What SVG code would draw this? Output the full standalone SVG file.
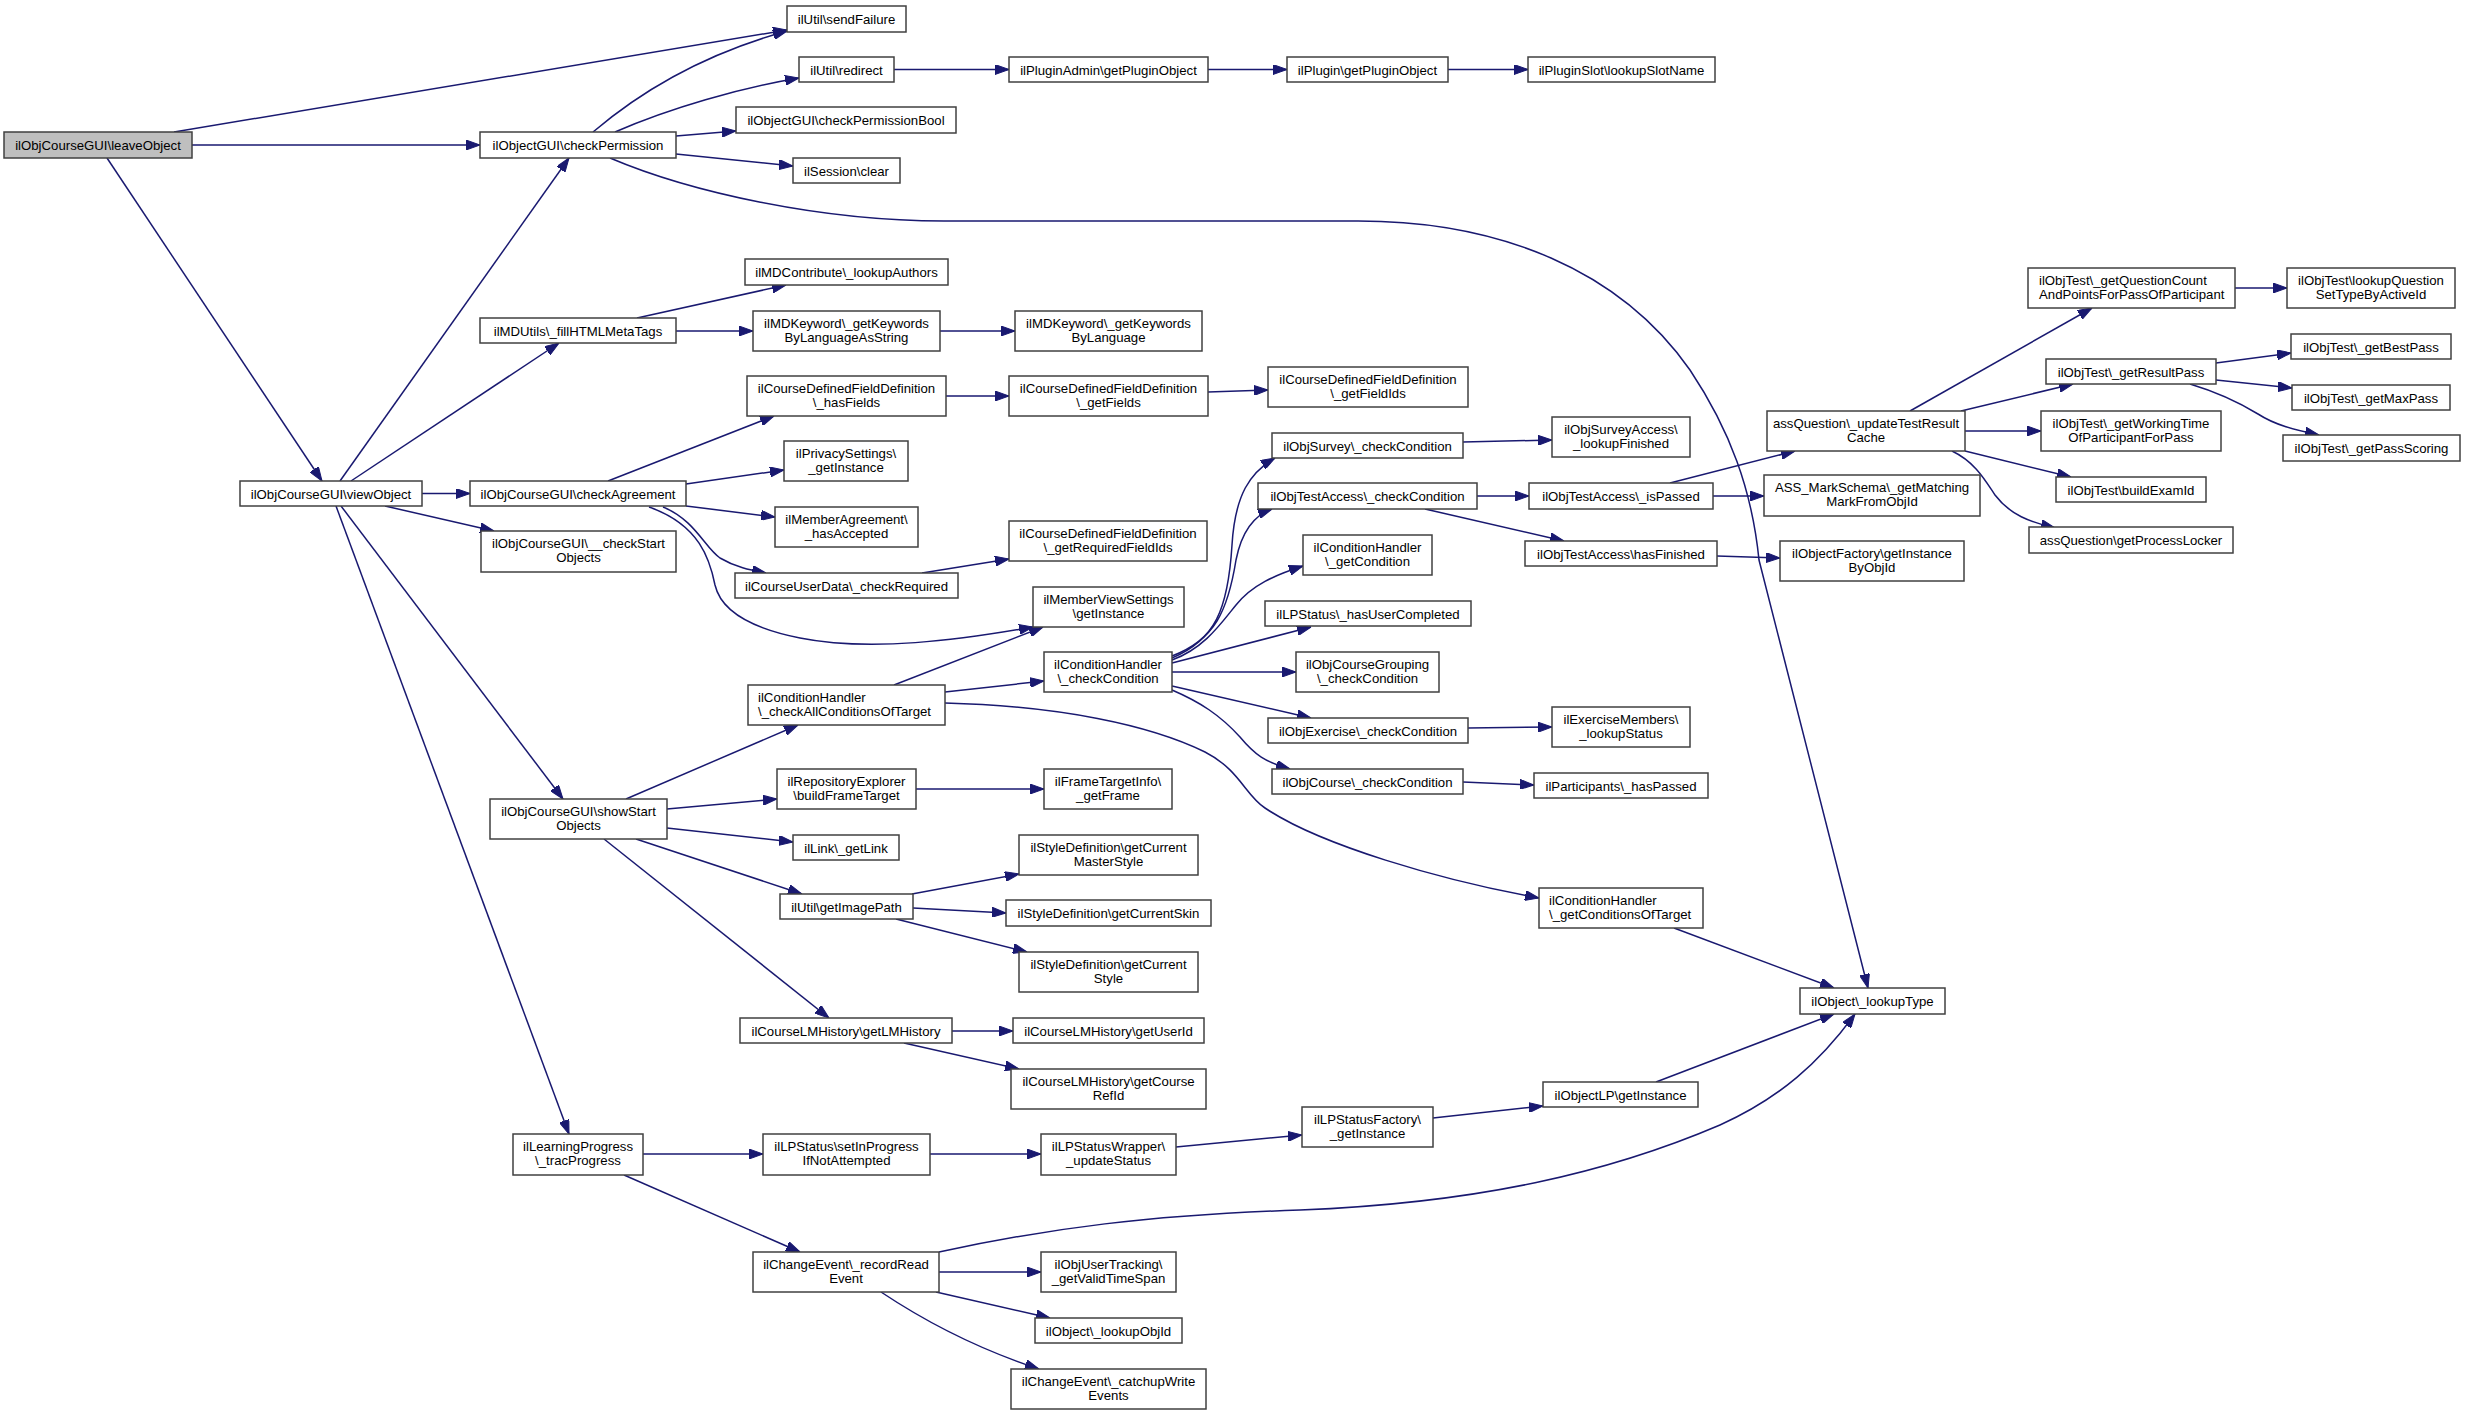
<svg xmlns="http://www.w3.org/2000/svg" width="2465" height="1415" viewBox="0 0 2465 1415">
<style>
.n rect{fill:#fff;stroke:#404040;stroke-width:1.5}
.n.root rect{fill:#bfbfbf}
text{font-family:"Liberation Sans",Arial,Helvetica,sans-serif;font-size:13.2px;text-anchor:middle;fill:#000}
text.l{text-anchor:start}
#edges path{fill:none;stroke:#191970;stroke-width:1.5;marker-end:url(#arr)}
</style>
<defs>
<marker id="arr" markerUnits="userSpaceOnUse" markerWidth="14" markerHeight="10" refX="14" refY="5" orient="auto">
<path d="M0,0 L14,5 L0,10 z" fill="#191970" stroke="#191970" stroke-width="1"/>
</marker>
</defs>
<rect width="2465" height="1415" fill="#fff"/>
<g id="edges">
<path d="M174,132 L787,30"/>
<path d="M192,145 L480,145"/>
<path d="M107,158 L322,481"/>
<path d="M593,132 C640,92 700,55 787,31"/>
<path d="M615,132 C670,108 740,88 799,78"/>
<path d="M676,136 L736,131"/>
<path d="M676,154 L793,166"/>
<path d="M610,158 C690,192 820,221 944,221 L1358,221 C1500,221 1620,270 1690,370 C1730,430 1752,490 1759,560 L1868,988"/>
<path d="M894,69.5 L1009,69.5"/>
<path d="M1208,69.5 L1287,69.5"/>
<path d="M1448,69.5 L1528,69.5"/>
<path d="M340,481 L569,158"/>
<path d="M351,481 L559,343"/>
<path d="M422,493.5 L470,493.5"/>
<path d="M385,506 L494,531"/>
<path d="M341,506 L563,799"/>
<path d="M336,506 L569,1134"/>
<path d="M637,318 L786,285"/>
<path d="M676,331 L753,331"/>
<path d="M940,331 L1015,331"/>
<path d="M608,481 L774,416"/>
<path d="M686,484 L784,470"/>
<path d="M686,506 L775,517"/>
<path d="M663,507 C695,520 705,548 720,558 C735,567 750,570 766,573"/>
<path d="M649,507 C700,525 710,560 715,585 C722,615 760,630 800,638 C870,652 960,640 1033,627"/>
<path d="M922,573 L1009,559"/>
<path d="M946,396 L1009,396"/>
<path d="M1208,392 L1268,390"/>
<path d="M626,799 L798,725"/>
<path d="M667,809 L777,799"/>
<path d="M916,789 L1044,789"/>
<path d="M667,828 L793,842"/>
<path d="M636,839 L802,894"/>
<path d="M604,839 L829,1018"/>
<path d="M894,685 L1043,627"/>
<path d="M945,692 L1044,681"/>
<path d="M945,703 C1060,706 1150,725 1205,752 C1240,770 1245,795 1265,808 C1320,845 1440,880 1539,898"/>
<path d="M1172,658 C1215,640 1228,610 1232,545 C1235,495 1250,472 1275,458"/>
<path d="M1172,656 C1215,640 1228,610 1236,560 C1242,530 1255,515 1272,509"/>
<path d="M1172,660 C1205,648 1222,622 1236,605 C1252,585 1275,575 1303,566"/>
<path d="M1172,663 L1311,627"/>
<path d="M1172,672 L1296,672"/>
<path d="M1172,686 L1311,718"/>
<path d="M1172,690 C1200,702 1220,715 1240,737 C1255,755 1265,762 1290,769"/>
<path d="M1463,442 L1552,440"/>
<path d="M1477,496 L1529,496"/>
<path d="M1425,509 L1564,541"/>
<path d="M1670,483 L1795,451"/>
<path d="M1713,496 L1764,496"/>
<path d="M1717,556 L1780,558"/>
<path d="M1468,728 L1552,727"/>
<path d="M1463,782 L1534,785"/>
<path d="M1674,928 L1834,988"/>
<path d="M912,894 L1019,874"/>
<path d="M913,908 L1006,913"/>
<path d="M896,919 L1027,952"/>
<path d="M952,1031 L1013,1031"/>
<path d="M904,1043 L1019,1069"/>
<path d="M643,1154 L763,1154"/>
<path d="M624,1175 L800,1252"/>
<path d="M930,1154 L1041,1154"/>
<path d="M1176,1147 L1302,1135"/>
<path d="M1433,1118 L1543,1106"/>
<path d="M1656,1082 L1834,1014"/>
<path d="M939,1252 C1050,1228 1150,1215 1300,1210 C1480,1203 1610,1172 1720,1125 C1780,1098 1820,1062 1855,1014"/>
<path d="M939,1272 L1041,1272"/>
<path d="M936,1292 L1050,1318"/>
<path d="M881,1292 C920,1318 975,1348 1039,1369"/>
<path d="M1910,411 L2092,308"/>
<path d="M1961,411 L2073,384"/>
<path d="M1965,431 L2041,431"/>
<path d="M1965,451 L2071,477"/>
<path d="M1952,451 C1975,462 1985,480 1995,495 C2010,515 2030,522 2055,528"/>
<path d="M2235,288 L2287,288"/>
<path d="M2216,363 L2291,353"/>
<path d="M2216,380 L2292,388"/>
<path d="M2190,384 C2220,393 2240,403 2258,414 C2275,425 2295,430 2319,435"/>
</g>
<g id="n0" class="n root"><rect x="4" y="132" width="188" height="26"/><text x="98" y="150">ilObjCourseGUI\leaveObject</text></g>
<g id="n1" class="n"><rect x="480" y="132" width="196" height="26"/><text x="578" y="150">ilObjectGUI\checkPermission</text></g>
<g id="n2" class="n"><rect x="787" y="6" width="119" height="26"/><text x="846.5" y="24">ilUtil\sendFailure</text></g>
<g id="n3" class="n"><rect x="799" y="57" width="95" height="25"/><text x="846.5" y="74.5">ilUtil\redirect</text></g>
<g id="n4" class="n"><rect x="736" y="107" width="220" height="26"/><text x="846" y="125">ilObjectGUI\checkPermissionBool</text></g>
<g id="n5" class="n"><rect x="793" y="158" width="107" height="25"/><text x="846.5" y="175.5">ilSession\clear</text></g>
<g id="n6" class="n"><rect x="1009" y="57" width="199" height="25"/><text x="1108.5" y="74.5">ilPluginAdmin\getPluginObject</text></g>
<g id="n7" class="n"><rect x="1287" y="57" width="161" height="25"/><text x="1367.5" y="74.5">ilPlugin\getPluginObject</text></g>
<g id="n8" class="n"><rect x="1528" y="57" width="187" height="25"/><text x="1621.5" y="74.5">ilPluginSlot\lookupSlotName</text></g>
<g id="n9" class="n"><rect x="1800" y="988" width="145" height="26"/><text x="1872.5" y="1006">ilObject\_lookupType</text></g>
<g id="n10" class="n"><rect x="240" y="481" width="182" height="25"/><text x="331" y="498.5">ilObjCourseGUI\viewObject</text></g>
<g id="n11" class="n"><rect x="480" y="318" width="196" height="25"/><text x="578" y="335.5">ilMDUtils\_fillHTMLMetaTags</text></g>
<g id="n12" class="n"><rect x="745" y="259" width="203" height="26"/><text x="846.5" y="277">ilMDContribute\_lookupAuthors</text></g>
<g id="n13" class="n"><rect x="753" y="311" width="187" height="40"/><text x="846.5" y="327.5">ilMDKeyword\_getKeywords</text><text x="846.5" y="342">ByLanguageAsString</text></g>
<g id="n14" class="n"><rect x="1015" y="311" width="187" height="40"/><text x="1108.5" y="327.5">ilMDKeyword\_getKeywords</text><text x="1108.5" y="342">ByLanguage</text></g>
<g id="n15" class="n"><rect x="470" y="481" width="216" height="25"/><text x="578" y="498.5">ilObjCourseGUI\checkAgreement</text></g>
<g id="n16" class="n"><rect x="747" y="376" width="199" height="40"/><text x="846.5" y="392.5">ilCourseDefinedFieldDefinition</text><text x="846.5" y="407">\_hasFields</text></g>
<g id="n17" class="n"><rect x="1009" y="376" width="199" height="40"/><text x="1108.5" y="392.5">ilCourseDefinedFieldDefinition</text><text x="1108.5" y="407">\_getFields</text></g>
<g id="n18" class="n"><rect x="1268" y="367" width="200" height="40"/><text x="1368" y="383.5">ilCourseDefinedFieldDefinition</text><text x="1368" y="398">\_getFieldIds</text></g>
<g id="n19" class="n"><rect x="784" y="441" width="124" height="40"/><text x="846" y="457.5">ilPrivacySettings\</text><text x="846" y="472">_getInstance</text></g>
<g id="n20" class="n"><rect x="775" y="507" width="143" height="40"/><text x="846.5" y="523.5">ilMemberAgreement\</text><text x="846.5" y="538">_hasAccepted</text></g>
<g id="n21" class="n"><rect x="735" y="573" width="223" height="25"/><text x="846.5" y="590.5">ilCourseUserData\_checkRequired</text></g>
<g id="n22" class="n"><rect x="1009" y="521" width="198" height="40"/><text x="1108" y="537.5">ilCourseDefinedFieldDefinition</text><text x="1108" y="552">\_getRequiredFieldIds</text></g>
<g id="n23" class="n"><rect x="1033" y="587" width="151" height="40"/><text x="1108.5" y="603.5">ilMemberViewSettings</text><text x="1108.5" y="618">\getInstance</text></g>
<g id="n24" class="n"><rect x="481" y="531" width="195" height="41"/><text x="578.5" y="547.5">ilObjCourseGUI\__checkStart</text><text x="578.5" y="562">Objects</text></g>
<g id="n25" class="n"><rect x="490" y="799" width="177" height="40"/><text x="578.5" y="815.5">ilObjCourseGUI\showStart</text><text x="578.5" y="830">Objects</text></g>
<g id="n26" class="n"><rect x="748" y="685" width="197" height="40"/><text class="l" x="758" y="701.5">ilConditionHandler</text><text class="l" x="758" y="716">\_checkAllConditionsOfTarget</text></g>
<g id="n27" class="n"><rect x="1044" y="652" width="128" height="40"/><text x="1108" y="668.5">ilConditionHandler</text><text x="1108" y="683">\_checkCondition</text></g>
<g id="n28" class="n"><rect x="777" y="769" width="139" height="40"/><text x="846.5" y="785.5">ilRepositoryExplorer</text><text x="846.5" y="800">\buildFrameTarget</text></g>
<g id="n29" class="n"><rect x="1044" y="769" width="128" height="40"/><text x="1108" y="785.5">ilFrameTargetInfo\</text><text x="1108" y="800">_getFrame</text></g>
<g id="n30" class="n"><rect x="793" y="835" width="106" height="25"/><text x="846" y="852.5">ilLink\_getLink</text></g>
<g id="n31" class="n"><rect x="1019" y="835" width="179" height="40"/><text x="1108.5" y="851.5">ilStyleDefinition\getCurrent</text><text x="1108.5" y="866">MasterStyle</text></g>
<g id="n32" class="n"><rect x="780" y="894" width="133" height="25"/><text x="846.5" y="911.5">ilUtil\getImagePath</text></g>
<g id="n33" class="n"><rect x="1006" y="900" width="205" height="26"/><text x="1108.5" y="918">ilStyleDefinition\getCurrentSkin</text></g>
<g id="n34" class="n"><rect x="1019" y="952" width="179" height="40"/><text x="1108.5" y="968.5">ilStyleDefinition\getCurrent</text><text x="1108.5" y="983">Style</text></g>
<g id="n35" class="n"><rect x="740" y="1018" width="212" height="25"/><text x="846" y="1035.5">ilCourseLMHistory\getLMHistory</text></g>
<g id="n36" class="n"><rect x="1013" y="1018" width="191" height="25"/><text x="1108.5" y="1035.5">ilCourseLMHistory\getUserId</text></g>
<g id="n37" class="n"><rect x="1011" y="1069" width="195" height="40"/><text x="1108.5" y="1085.5">ilCourseLMHistory\getCourse</text><text x="1108.5" y="1100">RefId</text></g>
<g id="n38" class="n"><rect x="513" y="1134" width="130" height="41"/><text x="578" y="1150.5">ilLearningProgress</text><text x="578" y="1165">\_tracProgress</text></g>
<g id="n39" class="n"><rect x="763" y="1134" width="167" height="41"/><text x="846.5" y="1150.5">ilLPStatus\setInProgress</text><text x="846.5" y="1165">IfNotAttempted</text></g>
<g id="n40" class="n"><rect x="1041" y="1134" width="135" height="41"/><text x="1108.5" y="1150.5">ilLPStatusWrapper\</text><text x="1108.5" y="1165">_updateStatus</text></g>
<g id="n41" class="n"><rect x="1302" y="1107" width="131" height="40"/><text x="1367.5" y="1123.5">ilLPStatusFactory\</text><text x="1367.5" y="1138">_getInstance</text></g>
<g id="n42" class="n"><rect x="1543" y="1082" width="155" height="25"/><text x="1620.5" y="1099.5">ilObjectLP\getInstance</text></g>
<g id="n43" class="n"><rect x="753" y="1252" width="186" height="40"/><text x="846" y="1268.5">ilChangeEvent\_recordRead</text><text x="846" y="1283">Event</text></g>
<g id="n44" class="n"><rect x="1041" y="1252" width="135" height="40"/><text x="1108.5" y="1268.5">ilObjUserTracking\</text><text x="1108.5" y="1283">_getValidTimeSpan</text></g>
<g id="n45" class="n"><rect x="1035" y="1318" width="147" height="25"/><text x="1108.5" y="1335.5">ilObject\_lookupObjId</text></g>
<g id="n46" class="n"><rect x="1011" y="1369" width="195" height="40"/><text x="1108.5" y="1385.5">ilChangeEvent\_catchupWrite</text><text x="1108.5" y="1400">Events</text></g>
<g id="n47" class="n"><rect x="1272" y="433" width="191" height="25"/><text x="1367.5" y="450.5">ilObjSurvey\_checkCondition</text></g>
<g id="n48" class="n"><rect x="1552" y="417" width="138" height="40"/><text x="1621" y="433.5">ilObjSurveyAccess\</text><text x="1621" y="448">_lookupFinished</text></g>
<g id="n49" class="n"><rect x="1258" y="483" width="219" height="26"/><text x="1367.5" y="501">ilObjTestAccess\_checkCondition</text></g>
<g id="n50" class="n"><rect x="1303" y="535" width="129" height="40"/><text x="1367.5" y="551.5">ilConditionHandler</text><text x="1367.5" y="566">\_getCondition</text></g>
<g id="n51" class="n"><rect x="1265" y="601" width="206" height="25"/><text x="1368" y="618.5">ilLPStatus\_hasUserCompleted</text></g>
<g id="n52" class="n"><rect x="1296" y="652" width="143" height="40"/><text x="1367.5" y="668.5">ilObjCourseGrouping</text><text x="1367.5" y="683">\_checkCondition</text></g>
<g id="n53" class="n"><rect x="1268" y="718" width="200" height="25"/><text x="1368" y="735.5">ilObjExercise\_checkCondition</text></g>
<g id="n54" class="n"><rect x="1552" y="707" width="138" height="40"/><text x="1621" y="723.5">ilExerciseMembers\</text><text x="1621" y="738">_lookupStatus</text></g>
<g id="n55" class="n"><rect x="1272" y="769" width="191" height="25"/><text x="1367.5" y="786.5">ilObjCourse\_checkCondition</text></g>
<g id="n56" class="n"><rect x="1534" y="773" width="174" height="25"/><text x="1621" y="790.5">ilParticipants\_hasPassed</text></g>
<g id="n57" class="n"><rect x="1539" y="888" width="164" height="40"/><text class="l" x="1549" y="904.5">ilConditionHandler</text><text class="l" x="1549" y="919">\_getConditionsOfTarget</text></g>
<g id="n58" class="n"><rect x="1529" y="483" width="184" height="26"/><text x="1621" y="501">ilObjTestAccess\_isPassed</text></g>
<g id="n59" class="n"><rect x="1525" y="541" width="192" height="25"/><text x="1621" y="558.5">ilObjTestAccess\hasFinished</text></g>
<g id="n60" class="n"><rect x="1767" y="411" width="198" height="40"/><text x="1866" y="427.5">assQuestion\_updateTestResult</text><text x="1866" y="442">Cache</text></g>
<g id="n61" class="n"><rect x="1764" y="475" width="216" height="41"/><text x="1872" y="491.5">ASS_MarkSchema\_getMatching</text><text x="1872" y="506">MarkFromObjId</text></g>
<g id="n62" class="n"><rect x="1780" y="541" width="184" height="40"/><text x="1872" y="557.5">ilObjectFactory\getInstance</text><text x="1872" y="572">ByObjId</text></g>
<g id="n63" class="n"><rect x="2028" y="268" width="207" height="40"/><text class="l" x="2039" y="284.5">ilObjTest\_getQuestionCount</text><text class="l" x="2039" y="299">AndPointsForPassOfParticipant</text></g>
<g id="n64" class="n"><rect x="2287" y="268" width="168" height="40"/><text x="2371" y="284.5">ilObjTest\lookupQuestion</text><text x="2371" y="299">SetTypeByActiveId</text></g>
<g id="n65" class="n"><rect x="2046" y="359" width="170" height="25"/><text x="2131" y="376.5">ilObjTest\_getResultPass</text></g>
<g id="n66" class="n"><rect x="2291" y="334" width="160" height="25"/><text x="2371" y="351.5">ilObjTest\_getBestPass</text></g>
<g id="n67" class="n"><rect x="2292" y="385" width="158" height="25"/><text x="2371" y="402.5">ilObjTest\_getMaxPass</text></g>
<g id="n68" class="n"><rect x="2283" y="435" width="177" height="26"/><text x="2371.5" y="453">ilObjTest\_getPassScoring</text></g>
<g id="n69" class="n"><rect x="2041" y="411" width="180" height="40"/><text x="2131" y="427.5">ilObjTest\_getWorkingTime</text><text x="2131" y="442">OfParticipantForPass</text></g>
<g id="n70" class="n"><rect x="2056" y="477" width="150" height="25"/><text x="2131" y="494.5">ilObjTest\buildExamId</text></g>
<g id="n71" class="n"><rect x="2029" y="527" width="204" height="26"/><text x="2131" y="545">assQuestion\getProcessLocker</text></g>
</svg>
